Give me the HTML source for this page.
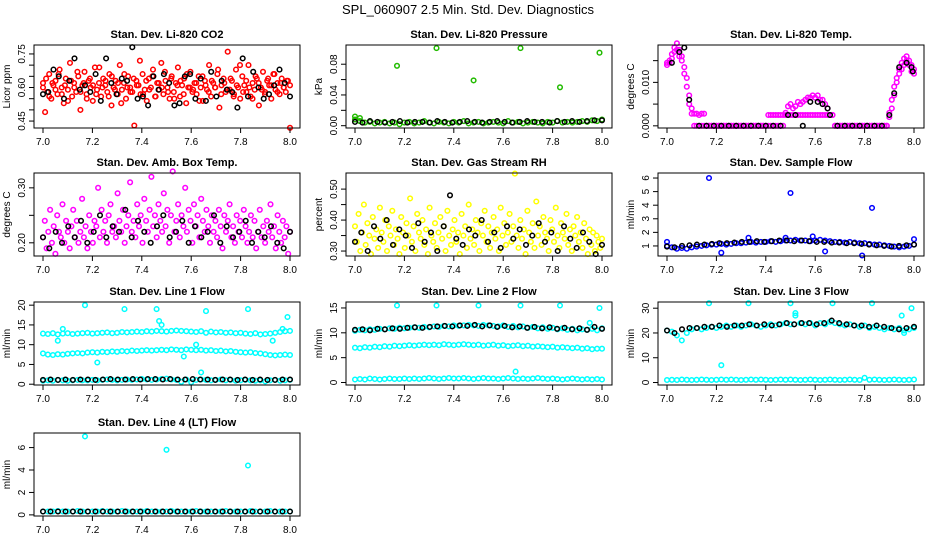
<!DOCTYPE html>
<html><head><meta charset="utf-8"><style>
body{margin:0;background:#fff;}
svg{display:block;font-family:"Liberation Sans",sans-serif;}
</style></head><body>
<svg id="chart" width="936" height="540" viewBox="0 0 936 540">
<rect width="936" height="540" fill="#fff"/>
<text x="468" y="14" font-size="13" text-anchor="middle">SPL_060907  2.5 Min. Std. Dev. Diagnostics</text>
</svg>
<script>
// ---- data ----
const xTicks=[7.0,7.2,7.4,7.6,7.8,8.0];
const co2Red=[0.62,0.49,0.58,0.66,0.55,0.61,0.63,0.57,0.68,0.60,0.53,0.64,0.59,0.71,0.56,0.62,0.58,0.65,0.50,0.61,0.67,0.57,0.63,0.60,0.54,0.69,0.59,0.62,0.56,0.64,0.61,0.58,0.66,0.52,0.60,0.63,0.57,0.70,0.59,0.62,0.55,0.65,0.60,0.58,0.43,0.63,0.61,0.57,0.66,0.59,0.54,0.64,0.60,0.68,0.56,0.62,0.59,0.71,0.57,0.63,0.60,0.55,0.65,0.58,0.62,0.69,0.56,0.61,0.64,0.53,0.60,0.67,0.58,0.62,0.57,0.65,0.60,0.54,0.63,0.59,0.70,0.56,0.62,0.60,0.66,0.51,0.61,0.64,0.58,0.76,0.59,0.63,0.57,0.68,0.60,0.55,0.65,0.61,0.58,0.70,0.56,0.62,0.59,0.64,0.52,0.60,0.67,0.58,0.63,0.61,0.55,0.66,0.59,0.62,0.57,0.64,0.60,0.58,0.63,0.42];
const co2Red2=[0.60,0.64,0.56,0.62,0.59,0.66,0.57,0.61,0.54,0.63,0.60,0.67,0.58,0.62,0.55,0.64,0.61,0.57,0.69,0.60,0.63,0.56,0.65,0.59,0.62,0.53,0.66,0.60,0.58,0.64,0.61,0.72,0.57,0.63,0.59,0.65,0.56,0.62,0.60,0.67,0.58,0.64,0.55,0.61,0.63,0.57,0.66,0.60,0.59,0.62,0.54,0.65,0.61,0.58,0.63,0.60,0.68,0.57,0.62,0.59,0.64,0.56,0.61,0.70,0.58,0.63,0.60,0.55,0.65,0.62,0.59,0.57,0.64,0.61,0.66,0.58,0.62,0.60,0.63,0.61];
const co2Black=[0.57,0.58,0.68,0.65,0.55,0.63,0.73,0.59,0.61,0.58,0.66,0.54,0.73,0.62,0.57,0.64,0.63,0.78,0.55,0.56,0.52,0.65,0.59,0.66,0.62,0.52,0.53,0.65,0.66,0.55,0.64,0.54,0.67,0.56,0.63,0.59,0.58,0.51,0.73,0.56,0.67,0.60,0.55,0.57,0.61,0.68,0.62,0.56];
const presGreen=[0.008,0.006,0.004,0.005,0.003,0.004,0.005,0.003,0.004,0.002,0.004,0.005,0.003,0.004,0.006,0.004,0.003,0.005,0.004,0.003,0.005,0.004,0.006,0.003,0.004,0.005,0.003,0.004,0.005,0.004,0.003,0.006,0.004,0.005,0.003,0.004,0.005,0.004,0.003,0.005,0.004,0.006,0.004,0.005,0.004,0.005,0.006,0.005,0.007,0.006,0.008];
const presOutX=[7.0,7.02,7.17,7.33,7.48,7.67,7.83,7.99];
const presOutY=[0.012,0.010,0.078,0.101,0.059,0.101,0.050,0.095];
const presBlack=[0.005,0.004,0.006,0.005,0.004,0.005,0.006,0.004,0.005,0.005,0.004,0.006,0.005,0.004,0.005,0.006,0.005,0.004,0.005,0.006,0.005,0.004,0.005,0.006,0.005,0.005,0.004,0.006,0.005,0.006,0.005,0.006,0.007,0.007];
const tempMag=[0.0145,0.015,0.0165,0.018,0.019,0.0175,0.016,0.0135,0.011,0.007,0.004,0,0,0,0,0,0,0,0,0,0,0,0,0,0,0,0,0,0,0,0,0,0,0,0,0,0,0,0,0,0,0,0,0,0,0,0,0,0.003,0.0045,0.005,0.004,0.0045,0.0055,0.005,0.0055,0.006,0.0065,0.0065,0.007,0.0065,0.007,0.006,0.006,0.005,0.004,0.0025,0.0025,0,0,0,0,0,0,0,0,0,0,0,0,0,0,0,0,0,0,0,0,0,0,0.003,0.006,0.009,0.011,0.013,0.0145,0.0155,0.016,0.015,0.014,0.013];
const tempMag2=[0.014,0.0145,0.0155,0.017,0.0175,0.016,0.015,0.012,0.009,0.005,0.0028,0.0028,0.0028,0.0025,0.0028,0.0028,0,0,0,0,0,0,0,0,0,0,0,0,0,0,0,0,0,0,0,0,0,0,0,0,0,0.0025,0.0025,0.0025,0.0025,0.0025,0.0025,0.0025,0.0025,0.0025,0.0025,0.0025,0.0025,0.0025,0.0025,0.0025,0.0025,0.0025,0.0025,0.0025,0.0025,0.0025,0.0025,0.0025,0.0025,0.0025,0.0025,0.0025,0,0,0,0,0,0,0,0,0,0,0,0,0,0,0,0,0,0,0,0,0,0,0.002,0.004,0.007,0.010,0.012,0.013,0.014,0.015,0.014,0.0125,0.012];
const tempBlackX=[7.02,7.05,7.07,7.09,7.13,7.16,7.19,7.22,7.25,7.28,7.31,7.34,7.37,7.40,7.43,7.46,7.49,7.52,7.55,7.58,7.61,7.63,7.65,7.66,7.69,7.72,7.75,7.78,7.81,7.84,7.87,7.90,7.92,7.94,7.97,7.99,7.995];
const tempBlackY=[0.0145,0.017,0.018,0.006,0,0,0,0,0,0,0,0,0,0,0,0,0.0025,0.0025,0,0.0055,0.0055,0.005,0.004,0.0025,0,0,0,0,0,0,0,0.0025,0.0075,0.0135,0.0145,0.0135,0.0125];
const ambMag=[0.21,0.24,0.19,0.22,0.26,0.20,0.23,0.18,0.25,0.22,0.21,0.27,0.20,0.24,0.22,0.19,0.23,0.26,0.21,0.24,0.20,0.22,0.28,0.21,0.23,0.19,0.25,0.22,0.20,0.24,0.23,0.30,0.21,0.26,0.22,0.24,0.20,0.25,0.27,0.22,0.23,0.21,0.29,0.24,0.22,0.26,0.20,0.23,0.25,0.31,0.22,0.24,0.21,0.27,0.23,0.25,0.20,0.28,0.24,0.22,0.26,0.32,0.23,0.25,0.21,0.27,0.24,0.22,0.29,0.23,0.26,0.20,0.25,0.33,0.22,0.24,0.27,0.21,0.25,0.23,0.30,0.22,0.26,0.24,0.20,0.27,0.23,0.25,0.21,0.28,0.24,0.22,0.26,0.23,0.20,0.25,0.22,0.24,0.21,0.26,0.23,0.19,0.25,0.22,0.24,0.27,0.21,0.23,0.20,0.25,0.22,0.24,0.21,0.26,0.23,0.20,0.22,0.25,0.21,0.24,0.19,0.22,0.26,0.21,0.23,0.20,0.24,0.22,0.27,0.21,0.23,0.19,0.25,0.22,0.20,0.24,0.21,0.23,0.18,0.22];
const ambBlack=[0.21,0.19,0.22,0.20,0.23,0.21,0.24,0.20,0.22,0.25,0.21,0.23,0.22,0.26,0.21,0.24,0.22,0.20,0.23,0.25,0.21,0.22,0.24,0.20,0.23,0.21,0.22,0.25,0.20,0.23,0.21,0.22,0.24,0.20,0.22,0.21,0.23,0.20,0.19,0.22];
const rhYellow=[0.38,0.33,0.42,0.30,0.36,0.45,0.32,0.39,0.35,0.29,0.41,0.34,0.37,0.31,0.44,0.36,0.33,0.40,0.30,0.38,0.35,0.43,0.32,0.37,0.34,0.29,0.41,0.36,0.31,0.39,0.35,0.47,0.33,0.38,0.30,0.42,0.36,0.34,0.40,0.32,0.37,0.29,0.44,0.35,0.33,0.39,0.31,0.36,0.41,0.34,0.38,0.30,0.43,0.35,0.32,0.37,0.40,0.33,0.36,0.29,0.42,0.35,0.38,0.31,0.45,0.34,0.37,0.32,0.40,0.36,0.30,0.39,0.35,0.43,0.33,0.38,0.31,0.36,0.41,0.34,0.37,0.30,0.44,0.35,0.39,0.32,0.36,0.42,0.33,0.38,0.55,0.35,0.31,0.40,0.34,0.37,0.29,0.43,0.36,0.33,0.39,0.31,0.46,0.35,0.38,0.32,0.41,0.36,0.34,0.30,0.40,0.37,0.33,0.44,0.35,0.31,0.39,0.36,0.34,0.42,0.32,0.37,0.30,0.38,0.35,0.41,0.33,0.36,0.31,0.39,0.34,0.29,0.37,0.32,0.36,0.30,0.35,0.33,0.31,0.34];
const rhBlack=[0.33,0.36,0.30,0.38,0.34,0.40,0.32,0.37,0.35,0.31,0.39,0.33,0.36,0.30,0.38,0.48,0.34,0.32,0.37,0.35,0.40,0.33,0.36,0.31,0.38,0.34,0.37,0.32,0.35,0.39,0.33,0.36,0.30,0.38,0.34,0.31,0.36,0.33,0.29,0.32];
const flowBlue=[1.0,0.9,0.8,0.85,0.8,0.9,0.95,1.0,1.05,1.1,1.1,1.15,1.1,1.15,1.2,1.2,1.25,1.3,1.25,1.3,1.3,1.35,1.3,1.35,1.4,1.4,1.45,1.4,1.4,1.35,1.4,1.45,1.4,1.35,1.3,1.3,1.25,1.3,1.25,1.2,1.2,1.15,1.1,1.1,1.05,1.0,0.95,0.9,0.95,1.0,1.1];
const flowOutX=[7.0,7.17,7.22,7.33,7.48,7.5,7.59,7.64,7.79,7.83,8.0];
const flowOutY=[1.3,6.0,0.5,1.6,1.6,4.9,1.7,0.6,0.3,3.8,1.5];
const flowBlack=[0.95,0.9,1.0,1.05,1.1,1.1,1.15,1.2,1.2,1.25,1.3,1.3,1.35,1.3,1.35,1.4,1.4,1.35,1.4,1.35,1.3,1.3,1.25,1.25,1.2,1.2,1.15,1.1,1.05,1.0,0.95,1.0,1.05,1.1];
const l1Hi=[12.8,12.7,12.9,12.6,12.8,12.9,12.7,12.8,12.9,13.0,12.8,12.9,13.0,13.1,12.9,13.0,13.2,13.1,13.2,13.3,13.2,13.4,13.3,13.5,13.4,13.3,13.5,13.6,13.5,13.4,13.3,13.2,13.4,13.0,13.3,13.1,13.2,13.0,13.1,12.9,13.0,12.8,12.7,12.9,12.6,12.7,12.8,13.0,13.2,13.4,13.5];
const l1Mid=[7.8,7.5,7.4,7.6,7.5,7.7,7.8,7.9,7.8,8.0,8.1,8.0,8.2,8.1,8.3,8.2,8.4,8.3,8.5,8.4,8.5,8.6,8.5,8.6,8.7,8.6,8.8,8.7,8.6,8.8,8.7,8.6,8.7,8.5,8.6,8.4,8.5,8.3,8.4,8.2,8.1,8.0,8.1,7.9,7.8,7.6,7.4,7.3,7.4,7.5,7.4];
const l1Low=[0.9,1.0,0.9,1.1,1.0,0.9,1.0,1.1,1.0,1.0,1.1,1.0,1.1,1.2,1.1,1.0,1.1,1.2,1.1,1.2,1.3,1.2,1.1,1.2,1.3,1.4,1.2,1.1,0.6,1.2,0.5,1.1,1.2,1.1,1.0,1.1,1.2,1.0,1.1,0.9,1.0,1.1,1.0,0.9,1.0,0.7,1.0,1.1,0.9,1.0,1.1];
const l1Black=[1.1,1.2,1.1,1.2,1.1,1.2,1.2,1.1,1.2,1.3,1.2,1.2,1.3,1.2,1.3,1.3,1.2,1.3,1.2,1.2,1.3,1.2,1.2,1.1,1.2,1.2,1.1,1.2,1.1,1.2,1.1,1.1,1.2,1.2];
const l1OutX=[7.06,7.08,7.17,7.22,7.33,7.46,7.47,7.48,7.57,7.62,7.64,7.66,7.83,7.93,7.97,7.99];
const l1OutY=[11,14,20,5.5,19,19,16,15,7,10,3,18.5,19,11,14,17];
const l2Hi=[10.4,10.6,10.5,10.7,10.6,10.8,10.7,10.9,10.8,11.0,10.9,11.0,11.1,11.0,11.2,11.1,11.3,11.2,11.4,11.3,11.5,11.4,11.5,11.6,11.5,11.4,11.6,11.5,11.4,11.3,11.5,11.2,11.4,11.1,11.3,11.0,11.2,10.9,11.1,10.8,11.0,10.7,10.9,10.6,10.8,10.5,10.7,10.6,10.8,10.5,10.9];
const l2Black=[10.6,10.7,10.5,10.8,10.7,10.9,10.8,11.0,11.1,11.0,11.2,11.3,11.4,11.3,11.5,11.4,11.6,11.3,11.5,11.2,11.4,11.1,11.3,11.0,11.2,10.9,11.1,10.8,11.0,10.7,10.9,10.6,11.2,10.8];
const l2Mid=[7.0,6.9,7.1,7.0,7.2,7.1,7.3,7.2,7.4,7.3,7.4,7.5,7.4,7.5,7.6,7.5,7.6,7.5,7.7,7.6,7.5,7.6,7.7,7.6,7.5,7.6,7.4,7.5,7.6,7.4,7.5,7.3,7.4,7.5,7.3,7.4,7.2,7.3,7.2,7.1,7.2,7.0,7.1,7.0,6.9,7.0,6.8,6.9,6.7,6.8,6.8];
const l2Low=[0.6,0.7,0.6,0.8,0.7,0.6,0.7,0.8,0.7,0.7,0.8,0.7,0.8,0.7,0.8,0.9,0.8,0.7,0.8,0.9,0.8,0.8,0.9,0.8,0.7,0.8,0.9,0.8,0.8,0.7,0.8,0.9,0.8,0.7,0.8,0.7,0.8,0.9,0.8,0.7,0.8,0.7,0.6,0.7,0.8,0.7,0.6,0.7,0.6,0.7,0.6];
const l2OutX=[7.17,7.33,7.5,7.65,7.67,7.83,7.95,7.99];
const l2OutY=[15.5,15.5,15.5,2.2,15.5,15.5,12,15];
const l3Hi=[21,20.5,19,17,20,21.5,22,21.5,22,22.5,22,22.5,23,22.5,23,22.5,23,23.5,23,22.5,23,23.5,23,23.5,24,23.5,27,24,23.5,24,23,24,23.5,24.5,24,23.5,23,23.5,23,22.5,23,22,22.5,22,21.5,22,21.5,22,21,21.5,22];
const l3Black=[21,20,21.5,22,22,22.5,22.5,23,22.5,23,23,23.5,23,23.5,23,23.5,24,23.5,24,24,23.5,24,25,24,23.5,23,23,22.5,23,22.5,22,21.5,22,22.5];
const l3Low=[1.0,1.1,1.0,1.2,1.1,1.0,1.1,1.2,1.1,1.0,1.1,1.2,1.1,1.2,1.1,1.0,1.1,1.2,1.1,1.2,1.1,1.0,1.1,1.2,1.1,1.2,1.1,1.0,1.1,1.2,1.1,1.0,1.1,1.2,1.1,1.0,1.1,1.2,1.1,1.0,1.9,1.1,1.2,1.1,1.0,1.1,1.2,1.1,1.0,1.1,1.2];
const l3OutX=[7.17,7.22,7.33,7.5,7.52,7.67,7.83,7.95,7.96,7.99];
const l3OutY=[32,7,32,32,28,32,32,27,20,30];
const l4Cyan=[0.3,0.3,0.3,0.35,0.3,0.3,0.3,0.35,0.3,0.3,0.3,0.3,0.35,0.3,0.3,0.3,0.35,0.3,0.3,0.3,0.3,0.35,0.3,0.3,0.3,0.3,0.35,0.3,0.3,0.3,0.3,0.35,0.3,0.3,0.3,0.3,0.3,0.35,0.3,0.3,0.3,0.3,0.35,0.3,0.3,0.3,0.35,0.3,0.3,0.3,0.3];
const l4Black=[0.3,0.3,0.3,0.3,0.3,0.3,0.3,0.3,0.3,0.3,0.3,0.3,0.3,0.3,0.3,0.3,0.3,0.3,0.3,0.3,0.3,0.3,0.3,0.3,0.3,0.3,0.3,0.3,0.3,0.3,0.3,0.3,0.3,0.3];
const l4OutX=[7.17,7.5,7.83];
const l4OutY=[7.0,5.8,4.4];

const NS='http://www.w3.org/2000/svg';
const svg=document.getElementById('chart');
function mk(tag,attrs,parent){const e=document.createElementNS(NS,tag);for(const k in attrs)e.setAttribute(k,attrs[k]);(parent||svg).appendChild(e);return e;}

const colX=[34,346,658], rowY=[45,173,302,433], BW=266, BH=83;
function panel(name,c,r,title,ylab,ylim,yticks,ylabels,series){
  const bx=colX[c],by=rowY[r];
  const g=mk('g',{});
  
  
  const xs=v=>bx+9+(v-7)*247;
  const ys=v=>by+BH-(v-ylim[0])/(ylim[1]-ylim[0])*BH;
  const t=mk('text',{x:bx+BW/2,y:by-7,'font-size':11,'font-weight':'bold','text-anchor':'middle'},g);
  t.textContent=title;
  
  
  const pts=mk('g',{fill:'none','stroke-width':1.5},g);
  
  
  series.forEach(s=>{
    s.y.forEach((v,i)=>{
      const xv=s.x?s.x[i]:7+i/(s.y.length-1);
      const p=mk('circle',{cx:xs(xv).toFixed(1),cy:ys(v).toFixed(1),r:2.3,stroke:s.color},pts);
      
      
    });
  });
  const box=mk('rect',{x:bx,y:by,width:BW,height:BH,fill:'none',stroke:'#000','stroke-width':1},g);
  
  
  xTicks.forEach(v=>{
    mk('line',{x1:xs(v),x2:xs(v),y1:by+BH,y2:by+BH+5,stroke:'#000'},g);
    const l=mk('text',{x:xs(v),y:by+BH+17,'font-size':10,'text-anchor':'middle'},g);
    l.textContent=v.toFixed(1);
    
    
  });
  yticks.forEach(v=>{mk('line',{x1:bx-5,x2:bx,y1:ys(v),y2:ys(v),stroke:'#000'},g);});
  ylabels.forEach(v=>{
    const y=ys(v);
    const l=mk('text',{x:bx-9,y:y,'font-size':10,'text-anchor':'middle',transform:`rotate(-90 ${bx-9} ${y})`},g);
    l.textContent=(typeof v==='number'&&ylabels.dec!==undefined)?v.toFixed(ylabels.dec):String(v);
    
    
  });
  const yl=mk('text',{x:bx-24,y:by+BH/2,'font-size':10,'text-anchor':'middle',transform:`rotate(-90 ${bx-24} ${by+BH/2})`},g);
  yl.textContent=ylab;
  
  
}
function L(arr,dec){arr.dec=dec;return arr;}
const R='#ff0000',K='#000000',G='#22bb00',M='#ff00ff',Y='#ffff00',B='#0000ff',C='#00ffff';
panel('panel-co2',0,0,'Stan. Dev. Li-820 CO2','Licor ppm',[0.419,0.79],[0.45,0.5,0.55,0.6,0.65,0.7,0.75],L([0.45,0.60,0.75],2),
  [{y:co2Red,color:R},{y:co2Red2,color:R},{y:co2Black,color:K}]);
panel('panel-pressure',1,0,'Stan. Dev. Li-820 Pressure','kPa',[-0.003,0.105],[0,0.02,0.04,0.06,0.08],L([0,0.04,0.08],2),
  [{y:presGreen,color:G},{x:presOutX,y:presOutY,color:G},{y:presBlack,color:K}]);
panel('panel-temp',2,0,'Stan. Dev. Li-820 Temp.','degrees C',[-0.0005,0.0186],[0,0.005,0.01,0.015],L([0,0.01],3),
  [{y:tempMag,color:M},{y:tempMag2,color:M},{x:tempBlackX,y:tempBlackY,color:K}]);
panel('panel-amb-temp',0,1,'Stan. Dev. Amb. Box Temp.','degrees C',[0.176,0.327],[0.2,0.25,0.3],L([0.2,0.3],2),
  [{y:ambMag,color:M},{y:ambBlack,color:K}]);
panel('panel-rh',1,1,'Stan. Dev. Gas Stream RH','percent',[0.284,0.552],[0.3,0.35,0.4,0.45,0.5],L([0.3,0.4,0.5],2),
  [{y:rhYellow,color:Y},{y:rhBlack,color:K}]);
panel('panel-sample-flow',2,1,'Stan. Dev. Sample Flow','ml/min',[0.26,6.37],[1,2,3,4,5,6],L([1,2,3,4,5,6],0),
  [{y:flowBlue,color:B},{x:flowOutX,y:flowOutY,color:B},{y:flowBlack,color:K}]);
panel('panel-line1',0,2,'Stan. Dev. Line 1 Flow','ml/min',[-0.2,20.8],[0,5,10,15,20],L([0,5,10,15,20],0),
  [{y:l1Hi,color:C},{y:l1Mid,color:C},{y:l1Low,color:C},{x:l1OutX,y:l1OutY,color:C},{y:l1Black,color:K}]);
panel('panel-line2',1,2,'Stan. Dev. Line 2 Flow','ml/min',[-0.5,16.2],[0,5,10,15],L([0,5,10,15],0),
  [{y:l2Hi,color:C},{y:l2Mid,color:C},{y:l2Low,color:C},{x:l2OutX,y:l2OutY,color:C},{y:l2Black,color:K}]);
panel('panel-line3',2,2,'Stan. Dev. Line 3 Flow','ml/min',[-1,32.5],[0,10,20,30],L([0,10,20,30],0),
  [{y:l3Hi,color:C},{y:l3Low,color:C},{x:l3OutX,y:l3OutY,color:C},{y:l3Black,color:K}]);
panel('panel-line4',0,3,'Stan. Dev. Line 4 (LT) Flow','ml/min',[-0.1,7.3],[0,2,4,6],L([0,2,4,6],0),
  [{y:l4Cyan,color:C},{x:l4OutX,y:l4OutY,color:C},{y:l4Black,color:K}]);
</script>
</body></html>
